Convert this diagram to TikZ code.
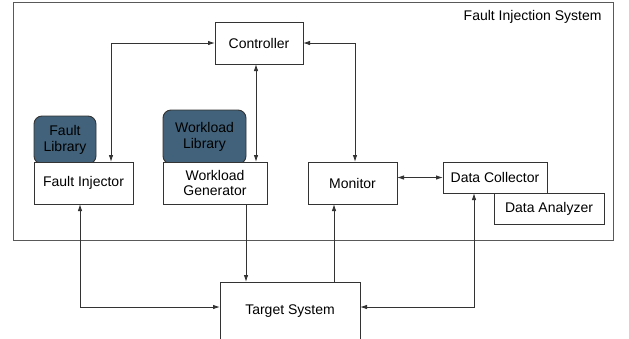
\documentclass[tikz,border=0pt]{standalone}
\usepackage{fontspec}
\setmainfont{Liberation Sans}
\usetikzlibrary{arrows.meta}
\definecolor{libfill}{HTML}{41627A}
\definecolor{edge}{HTML}{333333}
\tikzset{
  box/.style={draw=edge, line width=0.9pt, fill=white, inner sep=0pt, outer sep=0pt, align=center, font=\fontsize{14}{15.5}\selectfont},
  lib/.style={draw=edge, line width=0.9pt, fill=libfill, rounded corners=8pt, inner sep=0pt, outer sep=0pt, align=center, font=\fontsize{14}{15.5}\selectfont},
  conn/.style={draw=edge, line width=0.9pt, arrows={-Latex[length=7pt,width=4.5pt]}},
  biconn/.style={draw=edge, line width=0.9pt, arrows={Latex[length=7pt,width=4.5pt]-Latex[length=7pt,width=4.5pt]}}
}
\begin{document}
\begin{tikzpicture}[x=1pt,y=-1pt]
\useasboundingbox (0,0) rectangle (629,338);
\clip (0,0) rectangle (629,338);
% outer system box
\draw[draw=black!65, line width=1pt] (13,2) rectangle (613,240);
\node[anchor=east, font=\fontsize{14}{15.5}\selectfont] (title) at (605,17) {Fault Injection System};
% nodes
\node[box, minimum width=88pt, minimum height=42pt] (ctrl) at (259,43) {Controller};
\node[lib, minimum width=62pt, minimum height=48pt] (flib) at (65,140) {Fault\\Library};
\node[lib, minimum width=83pt, minimum height=54pt] (wlib) at (204.5,137) {Workload\\Library};
\node[box, minimum width=99pt, minimum height=42pt] (fi) at (83.5,183) {Fault Injector};
\node[box, minimum width=104pt, minimum height=42pt] (wg) at (215,183) {Workload\\Generator};
\node[box, minimum width=89pt, minimum height=42pt] (mon) at (352.5,183) {Monitor};
\node[box, minimum width=110pt, minimum height=31pt] (da) at (549,208.5) {Data Analyzer};
\node[box, minimum width=104pt, minimum height=31pt] (dc) at (495,177.5) {Data Collector};
\node[inner sep=0pt, outer sep=0pt, minimum width=140pt, minimum height=58pt, font=\fontsize{14}{15.5}\selectfont] (target) at (290,311) {Target System};
\draw[draw=edge, line width=0.9pt] (target.south west) -- (target.north west) -- (target.north east) -- (target.south east);
% connectors
\draw[biconn] (ctrl.west) -| ([xshift=27.5pt]fi.north);
\draw[biconn] (ctrl.east) -| ([xshift=2.5pt]mon.north);
\draw[biconn] ([xshift=-3pt]ctrl.south) -- ([xshift=-3pt]ctrl.south |- wg.north);
\draw[biconn] (mon.east |- dc.west) -- (dc.west);
\draw[conn] ([xshift=31pt]wg.south) -- ([xshift=31pt]wg.south |- target.north);
\draw[conn] ([xshift=-18.5pt]mon.south |- target.north) -- ([xshift=-18.5pt]mon.south);
\draw[biconn] ([xshift=-3.5pt]fi.south) |- ([yshift=4pt]target.west);
\draw[biconn] ([xshift=-21pt]dc.south) |- ([yshift=4pt]target.east);
\end{tikzpicture}
\end{document}
